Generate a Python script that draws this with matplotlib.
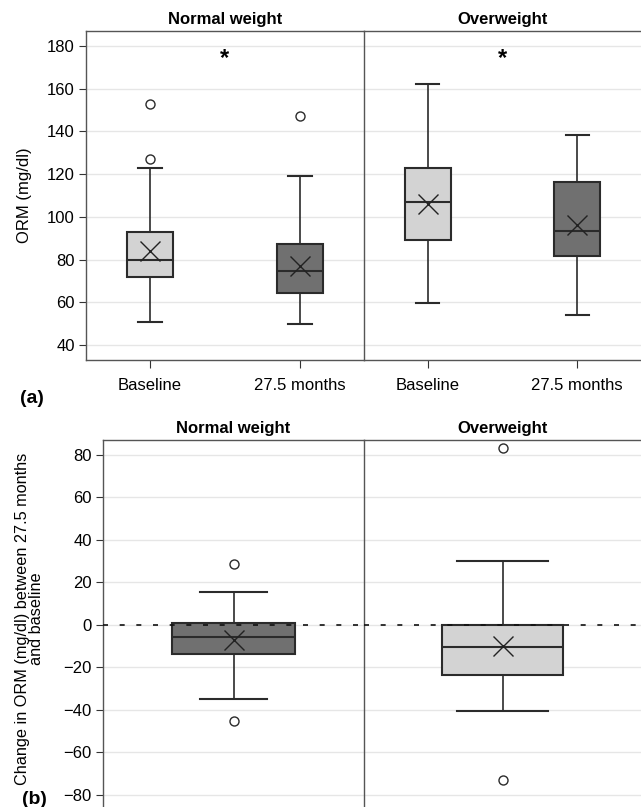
import matplotlib
matplotlib.use("Agg")
import matplotlib.pyplot as plt

plt.rcParams['font.family'] = ['Liberation Sans', 'DejaVu Sans']

# ---- data ----
groups = ["Normal weight", "Overweight"]
timepoints = ["Baseline", "27.5 months"]

# panel (a): ORM at baseline / 27.5 months
a_whislo = [[51, 50], [59.5, 54]]
a_q1 = [[72, 64.5], [89.3, 81.5]]
a_med = [[80, 74.8], [107, 93.5]]
a_q3 = [[92.8, 87.2], [123, 116.2]]
a_whishi = [[123, 119], [162, 138.2]]
a_mean = [[84, 77], [106, 96]]
a_fliers = [[[153, 127], [147]], [[], []]]
a_star_y = 174

# panel (b): change between 27.5 months and baseline
b_whislo = [-34.8, -40.7]
b_q1 = [-13.8, -23.7]
b_med = [-5.8, -10.5]
b_q3 = [1, 0]
b_whishi = [15.5, 30.3]
b_mean = [-7.3, -9.7]
b_fliers = [[28.5, -45], [83.3, -73]]

light = '#d3d3d3'
dark = '#707070'
edge = '#2b2b2b'
spine_c = '#555555'
grid_c = '#e6e6e6'

W, H = 641, 807
fig = plt.figure(figsize=(W / 100, H / 100), dpi=100)


def px_axes(l, t, r, b):
    return fig.add_axes([l / W, 1 - b / H, (r - l) / W, (b - t) / H])


def style(ax, first, bottom_spine=True):
    ax.spines['right'].set_visible(False)
    ax.spines['bottom'].set_visible(bottom_spine)
    for s in ['left', 'top', 'bottom']:
        ax.spines[s].set_color(spine_c)
        ax.spines[s].set_linewidth(1.0)
    ax.set_axisbelow(True)
    ax.yaxis.grid(True, color=grid_c, linewidth=1.0)
    if not first:
        ax.tick_params(axis='y', left=False, labelleft=False)
    ax.tick_params(axis='y', length=5, width=0.8, color='#333333', labelsize=12, pad=3)


def draw(ax, stats, colors, widths, capw):
    bp = ax.bxp(stats, positions=list(range(1, len(stats) + 1)), widths=widths,
                capwidths=capw, patch_artist=True, showmeans=True,
                medianprops=dict(color=edge, linewidth=1.5),
                whiskerprops=dict(color=edge, linewidth=1.2),
                capprops=dict(color=edge, linewidth=1.5),
                boxprops=dict(edgecolor=edge, linewidth=1.5),
                flierprops=dict(marker='o', markerfacecolor='none', markeredgecolor=edge,
                                markersize=6.5, markeredgewidth=1.0),
                meanprops=dict(marker='x', markersize=14, markeredgecolor='#222222',
                               markeredgewidth=1.0))
    for p, c in zip(bp['boxes'], colors):
        p.set_facecolor(c)


# ---- panel (a) ----
a_edges = [(86, 364), (364, 641)]
axes_a = []
for gi, g in enumerate(groups):
    l, r = a_edges[gi]
    ax = px_axes(l, 31, r, 360)
    axes_a.append(ax)
    stats = []
    for ti in range(2):
        stats.append(dict(med=a_med[gi][ti], q1=a_q1[gi][ti], q3=a_q3[gi][ti],
                          whislo=a_whislo[gi][ti], whishi=a_whishi[gi][ti],
                          mean=a_mean[gi][ti], fliers=a_fliers[gi][ti]))
    draw(ax, stats, [light, dark], 0.31, 0.155)
    ax.set_xlim(0.574, 2.426)
    ax.set_ylim(33, 187)
    ax.set_yticks([40, 60, 80, 100, 120, 140, 160, 180])
    ax.set_xticks([1, 2])
    ax.set_xticklabels(timepoints, fontsize=12)
    ax.tick_params(axis='x', length=6, width=0.8, color='#333333', pad=7)
    style(ax, gi == 0)
    ax.set_title(g, fontsize=12, fontweight='bold', pad=5)
    ax.text(1.5, a_star_y, '*', ha='center', va='center', fontsize=17, fontweight='bold')
axes_a[0].set_ylabel('ORM (mg/dl)', fontsize=12, labelpad=11)

# ---- panel (b) ----
b_edges = [(103, 364), (364, 641)]
b_widths = [0.94, 0.88]
b_caps = [0.52, 0.66]
axes_b = []
for gi, g in enumerate(groups):
    l, r = b_edges[gi]
    ax = px_axes(l, 440, r, 812)
    axes_b.append(ax)
    stats = [dict(med=b_med[gi], q1=b_q1[gi], q3=b_q3[gi], whislo=b_whislo[gi],
                  whishi=b_whishi[gi], mean=b_mean[gi], fliers=b_fliers[gi])]
    ax.axhline(0, color='#111111', linewidth=1.2, linestyle=(0, (3, 7)), zorder=3)
    draw(ax, stats, [dark if gi == 0 else light], b_widths[gi], b_caps[gi])
    ax.set_xlim(0, 2)
    ax.set_ylim(-88, 87)
    ax.set_yticks([-80, -60, -40, -20, 0, 20, 40, 60, 80])
    ax.set_xticks([])
    style(ax, gi == 0, bottom_spine=False)
    ax.set_title(g, fontsize=12, fontweight='bold', pad=5)
axes_b[0].set_ylabel('Change in ORM (mg/dl) between 27.5 months\nand baseline',
                     fontsize=11.7, linespacing=0.9)
axes_b[0].yaxis.set_label_coords(-0.226, 0.52)

fig.text(20 / W, 1 - 399 / H, '(a)', fontsize=14, fontweight='bold', va='center', ha='left')
fig.text(22 / W, 1 - 800 / H, '(b)', fontsize=14, fontweight='bold', va='center', ha='left')

fig.savefig('out.png', dpi=100)
